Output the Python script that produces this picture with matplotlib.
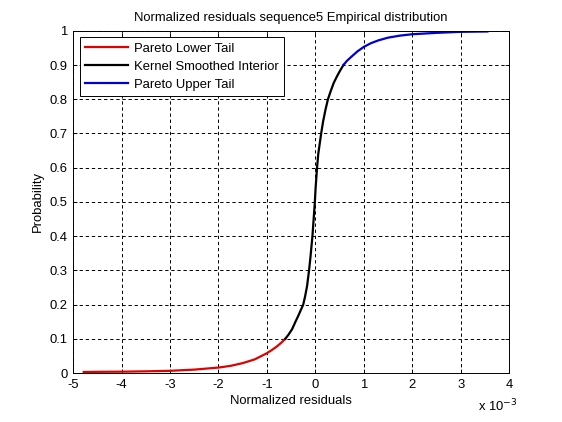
import matplotlib
matplotlib.use("Agg")
import matplotlib.pyplot as plt

plt.rcParams['font.family'] = ['Liberation Sans', 'DejaVu Sans']
plt.rcParams['lines.scale_dashes'] = False

# valors llegits del gràfic (eix x en unitats de 1e-3)
lower_x = [-4.78, -4.5, -4.0, -3.5, -3.0, -2.5, -2.0, -1.75, -1.5, -1.25,
           -1.0, -0.9, -0.8, -0.7, -0.62]
lower_y = [0.003, 0.0035, 0.004, 0.005, 0.0065, 0.01, 0.016, 0.021, 0.029, 0.04,
           0.058, 0.067, 0.077, 0.089, 0.10]

mid_x = [-0.62, -0.55, -0.48, -0.41, -0.35, -0.30, -0.25, -0.21, -0.17, -0.13,
         -0.10, -0.08, -0.06, -0.04, -0.02, -0.01, 0.005, 0.02, 0.035, 0.06,
         0.09, 0.12, 0.16, 0.21, 0.26, 0.32, 0.38, 0.45, 0.52, 0.58]
mid_y = [0.10, 0.113, 0.128, 0.15, 0.168, 0.184, 0.20, 0.225, 0.255, 0.30,
         0.34, 0.37, 0.40, 0.44, 0.48, 0.50, 0.54, 0.57, 0.60, 0.64,
         0.67, 0.70, 0.735, 0.77, 0.80, 0.825, 0.848, 0.868, 0.886, 0.90]

upper_x = [0.58, 0.65, 0.75, 0.87, 1.0, 1.15, 1.3, 1.5, 1.75, 2.0, 2.5, 3.0, 3.55]
upper_y = [0.90, 0.912, 0.925, 0.94, 0.953, 0.964, 0.972, 0.98, 0.986, 0.99,
           0.994, 0.997, 0.998]

xticks = list(range(-5, 5))
yticks = [0, 0.1, 0.2, 0.3, 0.4, 0.5, 0.6, 0.7, 0.8, 0.9, 1]
ytick_labels = ['0', '0.1', '0.2', '0.3', '0.4', '0.5', '0.6', '0.7', '0.8', '0.9', '1']

fs = 9.4

fig = plt.figure(figsize=(5.62, 4.22), dpi=100)
ax = fig.add_axes([0.13, 0.116, 0.776, 0.811])

ax.plot(lower_x, lower_y, color='#e00000', lw=1.6, label='Pareto Lower Tail')
ax.plot(mid_x, mid_y, color='black', lw=1.6, label='Kernel Smoothed Interior')
ax.plot(upper_x, upper_y, color='#0000d0', lw=1.6, label='Pareto Upper Tail')

ax.set_xlim(-5, 4)
ax.set_ylim(0, 1)
ax.set_xticks(xticks)
ax.set_xticklabels([str(v) for v in xticks])
ax.set_yticks(yticks)
ax.set_yticklabels(ytick_labels)
ax.tick_params(direction='in', top=True, right=True, length=3, width=0.6,
               labelsize=fs, pad=4)
for s in ax.spines.values():
    s.set_linewidth(0.7)

ax.grid(True, color='black', linestyle=(0, (2.4, 2.0)), linewidth=0.7)

ax.set_title('Normalized residuals sequence5 Empirical distribution', fontsize=fs, pad=7)
ax.set_xlabel('Normalized residuals', fontsize=fs, labelpad=3)
ax.set_ylabel('Probability', fontsize=fs, labelpad=4)
fig.text(0.85, 0.025, r'x 10$^{-3}$', fontsize=fs)

leg = ax.legend(loc='upper left', fontsize=fs, fancybox=False, framealpha=1,
                edgecolor='black', handlelength=3.3, handletextpad=0.5,
                borderaxespad=0.5, labelspacing=0.45, borderpad=0.4)
leg.get_frame().set_linewidth(0.7)

fig.savefig('out.png', dpi=100)
